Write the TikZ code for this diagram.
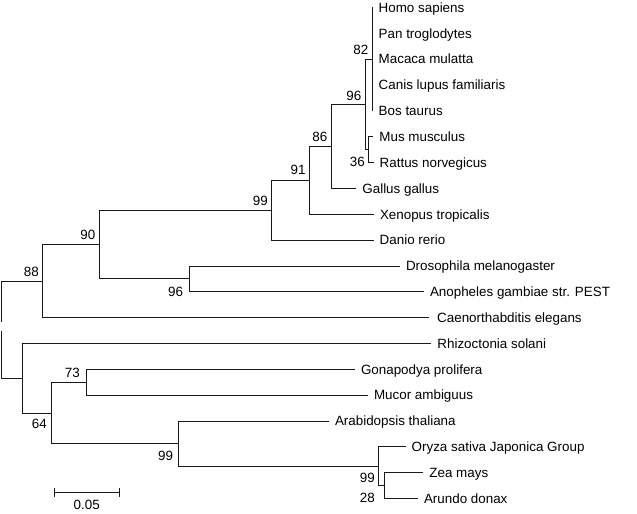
\documentclass[tikz,border=0pt]{standalone}
\usepackage{fontspec}
\setmainfont{Liberation Sans}
\begin{document}
\begin{tikzpicture}[x=1bp,y=-1bp,
  br/.style={line width=1bp, draw=black!90, line cap=rect},
  txt/.style={inner sep=0pt, text height=9.5bp, text depth=0pt, font=\fontsize{13.4bp}{15bp}\selectfont},
  leaf/.style={txt, anchor=west, inner xsep=6.5bp},
  bs/.style={txt, anchor=east}
]
\useasboundingbox (0,0) rectangle (637,514);
% internal nodes
\coordinate (n82) at (372,59.2);
\coordinate (nMR) at (368.3,149.6);
\coordinate (n96v) at (365,104.4);
\coordinate (n86) at (331,146.4);
\coordinate (n91) at (309.3,180.4);
\coordinate (n99v) at (271.7,210.3);
\coordinate (n96i) at (189,278.9);
\coordinate (n90) at (99,244.6);
\coordinate (n88) at (42.7,281.1);
\coordinate (n28) at (384.3,485.6);
\coordinate (n99g) at (378.3,466.2);
\coordinate (n99p) at (178.3,443.6);
\coordinate (n73) at (86.7,382.3);
\coordinate (n64) at (51,413);
\coordinate (nFP) at (22.7,378.2);
\coordinate (root) at (1,329.7);
% leaves
\node[leaf] (homo) at (372,7.5) {Homo sapiens};
\node[leaf] (pan) at (372,33.3) {Pan troglodytes};
\node[leaf] (macaca) at (372,59.2) {Macaca mulatta};
\node[leaf] (canis) at (372,85) {Canis lupus familiaris};
\node[leaf] (bos) at (372,110.8) {Bos taurus};
\node[leaf] (mus) at (372.7,136.7) {Mus musculus};
\node[leaf] (rattus) at (373,162.6) {Rattus norvegicus};
\node[leaf] (gallus) at (355.7,188.5) {Gallus gallus};
\node[leaf] (xenopus) at (373.3,214.3) {Xenopus tropicalis};
\node[leaf] (danio) at (373,240.2) {Danio rerio};
\node[leaf] (droso) at (399.3,266) {Drosophila melanogaster};
\node[leaf] (anoph) at (423.3,291.8) {Anopheles gambiae str. PEST};
\node[leaf, inner xsep=9bp] (caeno) at (428,317.7) {Caenorthabditis elegans};
\node[leaf] (rhizo) at (430.7,343.5) {Rhizoctonia solani};
\node[leaf] (gona) at (354.3,369.4) {Gonapodya prolifera};
\node[leaf] (mucor) at (367.3,395.2) {Mucor ambiguus};
\node[leaf] (arab) at (328.3,421) {Arabidopsis thaliana};
\node[leaf] (oryza) at (405,446.9) {Oryza sativa Japonica Group};
\node[leaf] (zea) at (422.7,472.7) {Zea mays};
\node[leaf] (arundo) at (417.3,498.5) {Arundo donax};
% branches
\draw[br] (n82) |- (homo.west);
\draw[br] (n82) |- (pan.west);
\draw[br] (n82) |- (canis.west);
\draw[br] (n82) |- (bos.west);
\draw[br] (nMR) |- (mus.west);
\draw[br] (nMR) |- (rattus.west);
\draw[br] (n96v) |- (n82);
\draw[br] (n96v) |- (nMR);
\draw[br] (n86) |- (n96v);
\draw[br] (n86) |- (gallus.west);
\draw[br] (n91) |- (n86);
\draw[br] (n91) |- (xenopus.west);
\draw[br] (n99v) |- (n91);
\draw[br] (n99v) |- (danio.west);
\draw[br] (n96i) |- (droso.west);
\draw[br] (n96i) |- (anoph.west);
\draw[br] (n90) |- (n99v);
\draw[br] (n90) |- (n96i);
\draw[br] (n88) |- (n90);
\draw[br] (n88) |- (caeno.west);
\draw[br] (n88) -| ([yshift=8bp]root);
\draw[br] (nFP) -| ([yshift=-2bp]root);
\draw[br] (nFP) |- (rhizo.west);
\draw[br] (nFP) |- (n64);
\draw[br] (n64) |- (n73);
\draw[br] (n64) |- (n99p);
\draw[br] (n73) |- (gona.west);
\draw[br] (n73) |- (mucor.west);
\draw[br] (n99p) |- (arab.west);
\draw[br] (n99p) |- (n99g);
\draw[br] (n99g) |- (oryza.west);
\draw[br] (n99g) |- (n28);
\draw[br] (n28) |- (zea.west);
\draw[br] (n28) |- (arundo.west);
% bootstrap values
\node[bs] (b82) at (368.5,50) {82};
\node[bs] (b96v) at (361.5,95.7) {96};
\node[bs] (b36) at (365,161.7) {36};
\node[bs] (b86) at (327.5,137) {86};
\node[bs] (b91) at (305.8,170) {91};
\node[bs] (b99v) at (268,200.7) {99};
\node[bs] (b90) at (95.5,235) {90};
\node[bs] (b88) at (39,271.7) {88};
\node[bs] (b96i) at (183.3,291.7) {96};
\node[bs] (b73) at (80,372.7) {73};
\node[bs] (b64) at (47,424) {64};
\node[bs] (b99p) at (173.3,456) {99};
\node[bs] (b99g) at (375,477.3) {99};
\node[bs] (b28) at (375,498) {28};
% scale bar
\coordinate (sbL) at (54,492.7);
\coordinate (sbR) at (119,492.7);
\draw[br] (sbL) -- (sbR);
\draw[br] ([yshift=4bp]sbL) -- ([yshift=-4bp]sbL);
\draw[br] ([yshift=4bp]sbR) -- ([yshift=-4bp]sbR);
\node[txt] (sblab) at (86.7,505) {0.05};
\end{tikzpicture}
\end{document}
